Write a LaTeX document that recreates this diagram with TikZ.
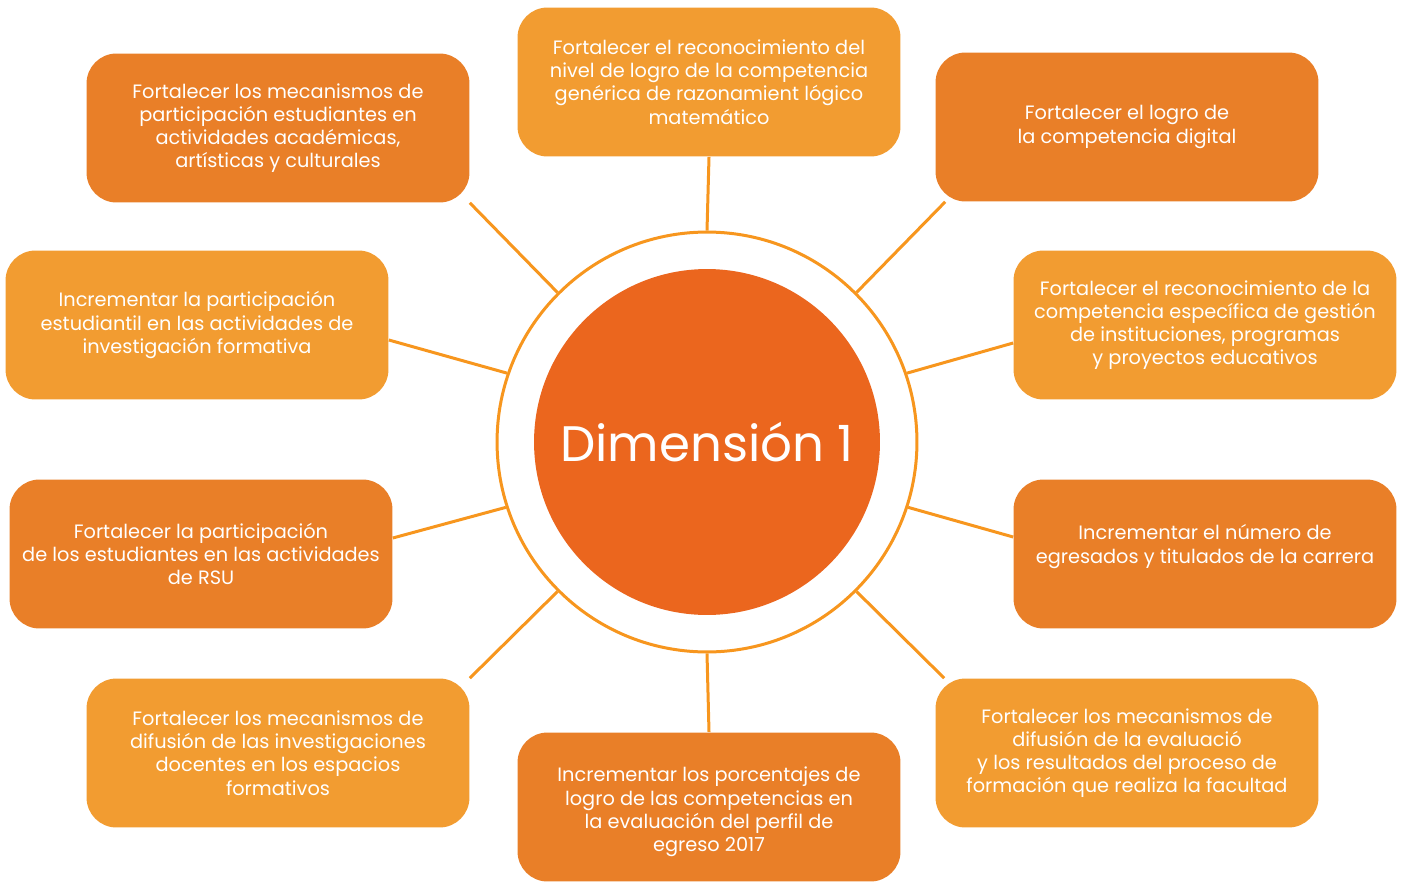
\documentclass[tikz,border=0pt]{standalone}
\usepackage{fontspec}
\setmainfont{Poppins}
\usetikzlibrary{backgrounds}
\begin{document}
\begin{tikzpicture}[x=0.02cm, y=-0.02cm,
  goal/.style={rounded corners=0.6cm, minimum width=7.66cm, minimum height=2.98cm,
    text=white, align=center, font=\fontsize{11}{13.2}\selectfont, inner sep=0pt},
  dark/.style={goal, fill=darkgoal},
  light/.style={goal, fill=lightgoal},
  link/.style={draw=linecol, line width=0.06cm}]
\definecolor{darkgoal}{HTML}{E97F28}
\definecolor{lightgoal}{HTML}{F29C31}
\definecolor{centrecol}{HTML}{EB661E}
\definecolor{linecol}{HTML}{F7961E}
\useasboundingbox (0,0) rectangle (1405,882);
% centre
\node[circle, draw=linecol, line width=0.06cm, fill=white, minimum size=8.4cm] (ring) at (707,442) {};
\node[circle, fill=centrecol, minimum size=6.92cm, text=white, font=\fontsize{28.4}{34}\selectfont] (dim) at (707,442) {Dimensión 1};
% goals
\node[dark] (mecpart) at (278,128) {Fortalecer los mecanismos de\\participación estudiantes en\\actividades académicas,\\artísticas y culturales};
\node[light] (razlog) at (709,82) {Fortalecer el reconocimiento del\\nivel de logro de la competencia\\genérica de razonamient lógico\\matemático};
\node[dark] (digital) at (1127,127) {Fortalecer el logro de\\la competencia digital};
\node[light] (gestion) at (1205,325) {Fortalecer el reconocimiento de la\\competencia específica de gestión\\de instituciones, programas\\y proyectos educativos};
\node[dark] (egresados) at (1205,554) {Incrementar el número de\\egresados y titulados de la carrera\\[-1.7pt]\mbox{}};
\node[light] (evaluacion) at (1127,753) {Fortalecer los mecanismos de\\difusión de la evaluació\\y los resultados del proceso de\\formación que realiza la facultad};
\node[dark] (perfil) at (709,807) {\mbox{}\\[0.7pt]Incrementar los porcentajes de\\logro de las competencias en\\la evaluación del perfil de\\egreso 2017};
\node[light] (difinv) at (278,753) {Fortalecer los mecanismos de\\difusión de las investigaciones\\docentes en los espacios\\formativos};
\node[dark] (rsu) at (201,554) {Fortalecer la participación\\de los estudiantes en las actividades\\de RSU};
\node[light] (invform) at (197,325) {Incrementar la participación\\estudiantil en las actividades de\\investigación formativa};
% connectors
\begin{scope}[on background layer]
\draw[link] (razlog.south) -- (ring.90);
\draw[link] (mecpart.south east) -- (ring.135);
\draw[link] ([xshift=0.2cm]digital.south west) -- (ring.45);
\draw[link] ([yshift=-0.3cm]invform.east) -- (ring.161);
\draw[link] ([yshift=-0.36cm]gestion.west) -- (ring.19);
\draw[link] ([yshift=0.32cm]rsu.east) -- (ring.198);
\draw[link] ([yshift=0.34cm]egresados.west) -- (ring.342);
\draw[link] (difinv.north east) -- (ring.225);
\draw[link] ([xshift=0.18cm]evaluacion.north west) -- (ring.315);
\draw[link] (perfil.north) -- (ring.270);
\end{scope}
\end{tikzpicture}
\end{document}
